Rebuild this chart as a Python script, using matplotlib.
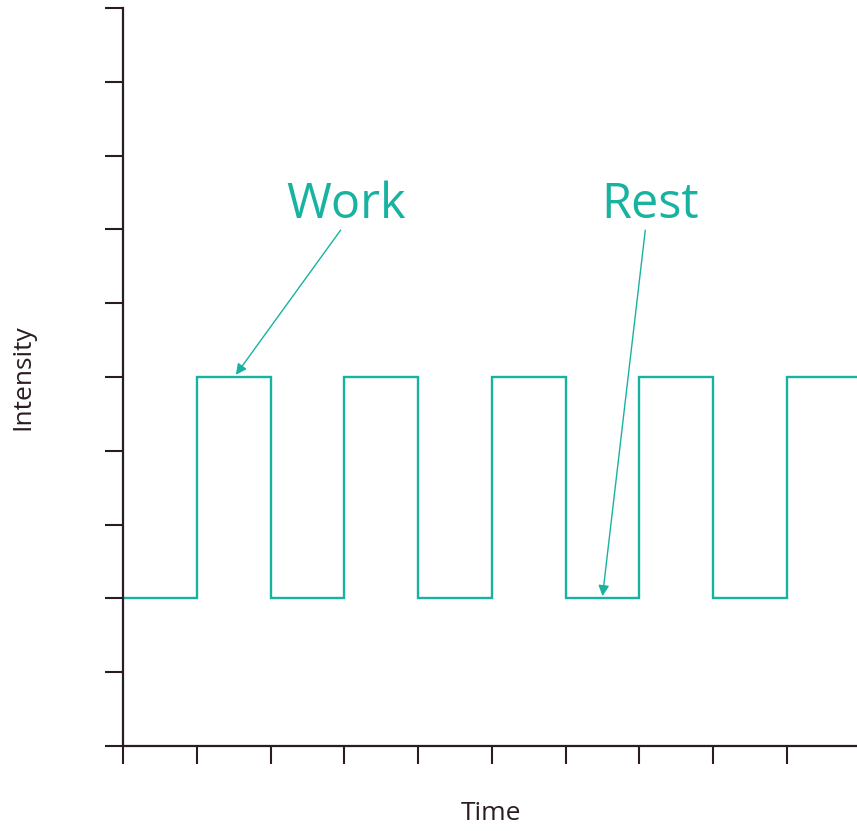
import matplotlib
matplotlib.use('Agg')
import matplotlib.pyplot as plt

# square wave: work / rest intervals
time_edges = [0, 1, 2, 3, 4, 5, 6, 7, 8, 9, 10]
intensity = [2, 5, 2, 5, 2, 5, 2, 5, 2, 5]
x_ticks = [0, 1, 2, 3, 4, 5, 6, 7, 8, 9]
y_ticks = [0, 1, 2, 3, 4, 5, 6, 7, 8, 9, 10]

teal = '#17b3a0'
axis_col = '#2b1c22'
plt.rcParams['font.family'] = ['Open Sans', 'DejaVu Sans']

fig = plt.figure(figsize=(8.57, 8.31), dpi=100)
ax = fig.add_axes([123 / 857, 85 / 831, 734 / 857, 738 / 831])

ax.stairs(intensity, time_edges, baseline=None, color=teal, lw=1.7)

ax.set_xlim(0, 9.95)
ax.set_ylim(0, 10)
ax.set_xticks(x_ticks)
ax.set_yticks(y_ticks)
ax.set_xticklabels([])
ax.set_yticklabels([])
ax.tick_params(direction='out', length=13, width=1.5, color=axis_col)
for s in ['top', 'right']:
    ax.spines[s].set_visible(False)
for s in ['left', 'bottom']:
    ax.spines[s].set_color(axis_col)
    ax.spines[s].set_linewidth(1.6)

# annotations
ax.text(3.03, 7.15, 'Work', color=teal, fontsize=35, ha='center', va='baseline')
ax.annotate('', xy=(1.53, 5.03), xytext=(2.95, 6.99),
            arrowprops=dict(arrowstyle='-|>', color=teal, lw=1, mutation_scale=16,
                            shrinkA=0, shrinkB=0))
ax.text(7.15, 7.15, 'Rest', color=teal, fontsize=35, ha='center', va='baseline')
ax.annotate('', xy=(6.5, 2.03), xytext=(7.08, 6.99),
            arrowprops=dict(arrowstyle='-|>', color=teal, lw=1, mutation_scale=16,
                            shrinkA=0, shrinkB=0))

fig.text(491 / 857, 1 - 813 / 831, 'Time', fontsize=19, color=axis_col, ha='center', va='center')
fig.text(23 / 857, 1 - 377 / 831, 'Intensity', fontsize=19, color=axis_col,
         ha='center', va='center', rotation=90)

fig.savefig('out.png', dpi=100)
